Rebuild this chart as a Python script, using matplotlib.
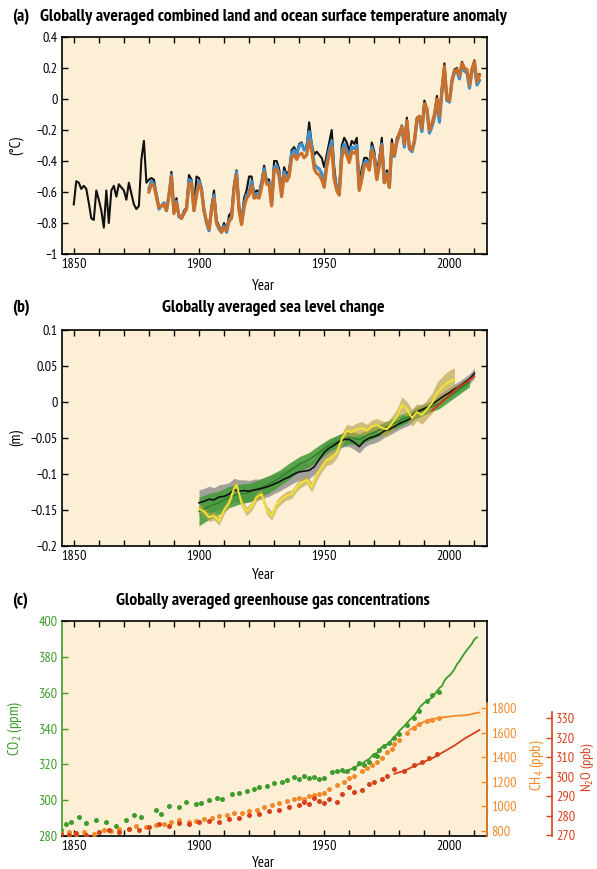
import numpy as np
import matplotlib
matplotlib.use('Agg')
import matplotlib.pyplot as plt
from matplotlib.ticker import MultipleLocator
from matplotlib import font_manager

# pick a condensed sans family similar to the original (Myriad condensed)
available = set(f.name for f in font_manager.fontManager.ttflist)
FONT = 'DejaVu Sans'
for cand in ['PT Sans Narrow', 'Roboto Condensed', 'Fira Sans Condensed', 'Open Sans Condensed',
             'Archivo Narrow', 'Asap Condensed', 'Encode Sans Condensed', 'IBM Plex Sans Condensed',
             'Liberation Sans Narrow']:
    if cand in available:
        FONT = cand
        break

plt.rcParams['font.family'] = [FONT, 'DejaVu Sans']
plt.rcParams['mathtext.fontset'] = 'custom'
plt.rcParams['mathtext.rm'] = FONT
plt.rcParams['mathtext.it'] = FONT
plt.rcParams['mathtext.bf'] = FONT + ':bold'

BG = '#FDEFD6'

# ---------------- (a) temperature anomaly (deg C) ----------------
had_years = np.arange(1850, 2013)
had_vals = [
    -0.68, -0.53, -0.54, -0.58, -0.56, -0.58, -0.67, -0.77, -0.78, -0.59,
    -0.65, -0.72, -0.83, -0.59, -0.80, -0.59, -0.56, -0.63, -0.55, -0.57,
    -0.59, -0.65, -0.54, -0.61, -0.68, -0.71, -0.69, -0.39, -0.27, -0.54,
    -0.52, -0.51, -0.52, -0.61, -0.70, -0.69, -0.67, -0.72, -0.62, -0.47,
    -0.72, -0.64, -0.76, -0.77, -0.72, -0.70, -0.49, -0.52, -0.71, -0.50,
    -0.51, -0.57, -0.71, -0.79, -0.83, -0.69, -0.59, -0.78, -0.82, -0.85,
    -0.80, -0.85, -0.75, -0.73, -0.55, -0.46, -0.69, -0.78, -0.64, -0.59,
    -0.50, -0.50, -0.61, -0.59, -0.60, -0.53, -0.43, -0.52, -0.52, -0.66,
    -0.40, -0.40, -0.45, -0.58, -0.44, -0.49, -0.46, -0.33, -0.31, -0.35,
    -0.29, -0.28, -0.33, -0.30, -0.15, -0.29, -0.36, -0.34, -0.36, -0.38,
    -0.44, -0.36, -0.28, -0.20, -0.44, -0.58, -0.58, -0.30, -0.25, -0.28,
    -0.34, -0.27, -0.29, -0.25, -0.55, -0.45, -0.38, -0.38, -0.42, -0.28,
    -0.34, -0.47, -0.38, -0.25, -0.52, -0.46, -0.53, -0.26, -0.37, -0.25,
    -0.22, -0.17, -0.30, -0.12, -0.32, -0.34, -0.27, -0.12, -0.11, -0.19,
    -0.01, -0.06, -0.21, -0.16, -0.10, 0.02, -0.13, 0.08, 0.23, 0.00,
    -0.02, 0.13, 0.19, 0.20, 0.14, 0.24, 0.20, 0.18, 0.09, 0.20,
    0.25, 0.12, 0.16]

noaa_years = np.arange(1880, 2013)
noaa_vals = [
    -0.60, -0.55, -0.56, -0.63, -0.70, -0.69, -0.68, -0.72, -0.63, -0.50,
    -0.74, -0.67, -0.75, -0.77, -0.74, -0.71, -0.55, -0.54, -0.72, -0.62,
    -0.55, -0.59, -0.72, -0.79, -0.84, -0.72, -0.64, -0.80, -0.83, -0.86,
    -0.83, -0.85, -0.79, -0.77, -0.58, -0.49, -0.72, -0.81, -0.70, -0.64,
    -0.62, -0.56, -0.64, -0.63, -0.64, -0.57, -0.47, -0.55, -0.55, -0.69,
    -0.46, -0.45, -0.50, -0.63, -0.49, -0.53, -0.50, -0.38, -0.36, -0.39,
    -0.36, -0.35, -0.38, -0.36, -0.27, -0.33, -0.45, -0.48, -0.49, -0.52,
    -0.57, -0.44, -0.36, -0.31, -0.52, -0.59, -0.62, -0.38, -0.32, -0.36,
    -0.41, -0.34, -0.35, -0.33, -0.59, -0.52, -0.43, -0.42, -0.46, -0.33,
    -0.38, -0.52, -0.43, -0.30, -0.54, -0.49, -0.57, -0.29, -0.36, -0.27,
    -0.22, -0.18, -0.29, -0.14, -0.31, -0.33, -0.27, -0.13, -0.11, -0.19,
    -0.03, -0.06, -0.20, -0.16, -0.10, 0.00, -0.11, 0.06, 0.21, 0.00,
    -0.01, 0.12, 0.18, 0.19, 0.15, 0.23, 0.20, 0.19, 0.09, 0.19,
    0.24, 0.11, 0.15]

giss_years = np.arange(1880, 2013)
giss_vals = [
    -0.58, -0.53, -0.55, -0.62, -0.71, -0.69, -0.67, -0.72, -0.62, -0.49,
    -0.73, -0.66, -0.76, -0.77, -0.73, -0.71, -0.52, -0.53, -0.72, -0.61,
    -0.53, -0.58, -0.72, -0.80, -0.85, -0.71, -0.62, -0.80, -0.84, -0.86,
    -0.82, -0.86, -0.78, -0.76, -0.57, -0.47, -0.71, -0.80, -0.68, -0.62,
    -0.60, -0.53, -0.63, -0.61, -0.62, -0.55, -0.45, -0.54, -0.54, -0.68,
    -0.44, -0.43, -0.48, -0.61, -0.47, -0.51, -0.48, -0.35, -0.33, -0.36,
    -0.30, -0.29, -0.33, -0.31, -0.21, -0.30, -0.42, -0.44, -0.45, -0.48,
    -0.55, -0.41, -0.33, -0.27, -0.50, -0.57, -0.61, -0.34, -0.29, -0.33,
    -0.38, -0.31, -0.32, -0.30, -0.58, -0.50, -0.41, -0.40, -0.45, -0.31,
    -0.37, -0.51, -0.42, -0.29, -0.54, -0.48, -0.57, -0.30, -0.37, -0.28,
    -0.23, -0.18, -0.31, -0.15, -0.32, -0.34, -0.28, -0.14, -0.12, -0.21,
    -0.04, -0.07, -0.22, -0.18, -0.12, -0.02, -0.15, 0.04, 0.19, -0.01,
    -0.02, 0.11, 0.17, 0.18, 0.13, 0.22, 0.18, 0.17, 0.07, 0.18,
    0.22, 0.09, 0.12]

# ---------------- (b) sea level (m) ----------------
cw_years = np.arange(1900, 2011, 2)
cw_vals = [
    -0.140, -0.138, -0.135, -0.136, -0.132, -0.131, -0.128, -0.122, -0.124, -0.123,
    -0.124, -0.122, -0.121, -0.119, -0.117, -0.114, -0.111, -0.107, -0.104, -0.100,
    -0.097, -0.096, -0.095, -0.090, -0.080, -0.070, -0.064, -0.060, -0.055, -0.052,
    -0.052, -0.056, -0.062, -0.054, -0.050, -0.048, -0.045, -0.040, -0.038, -0.034,
    -0.030, -0.027, -0.024, -0.016, -0.012, -0.009, -0.006, -0.001, 0.004, 0.009,
    0.013, 0.018, 0.022, 0.027, 0.032, 0.040]
cw_err = [
    0.018, 0.018, 0.018, 0.017, 0.017, 0.017, 0.016, 0.016, 0.016, 0.015,
    0.015, 0.015, 0.014, 0.014, 0.014, 0.013, 0.013, 0.013, 0.012, 0.012,
    0.012, 0.012, 0.011, 0.011, 0.011, 0.011, 0.010, 0.010, 0.010, 0.010,
    0.010, 0.010, 0.009, 0.009, 0.009, 0.009, 0.009, 0.009, 0.008, 0.008,
    0.008, 0.008, 0.008, 0.008, 0.008, 0.007, 0.007, 0.007, 0.007, 0.007,
    0.007, 0.007, 0.007, 0.007, 0.007, 0.007]

jev_years = np.arange(1900, 2009, 4)
jev_vals = [
    -0.152, -0.145, -0.140, -0.132, -0.128, -0.126, -0.120, -0.114, -0.106, -0.096,
    -0.086, -0.080, -0.070, -0.060, -0.054, -0.049, -0.052, -0.045, -0.039, -0.033,
    -0.026, -0.020, -0.014, -0.008, -0.002, 0.008, 0.018, 0.028]
jev_err = [
    0.020, 0.018, 0.016, 0.015, 0.014, 0.013, 0.012, 0.012, 0.011, 0.011,
    0.010, 0.010, 0.010, 0.009, 0.009, 0.009, 0.008, 0.008, 0.008, 0.008,
    0.008, 0.007, 0.007, 0.007, 0.007, 0.007, 0.007, 0.007]

rd_years = [1900, 1902, 1904, 1906, 1908, 1910, 1912, 1914, 1915, 1917,
            1919, 1921, 1923, 1925, 1927, 1929, 1931, 1933, 1935, 1937,
            1939, 1941, 1943, 1945, 1947, 1949, 1951, 1953, 1955, 1957,
            1959, 1961, 1963, 1965, 1967, 1969, 1971, 1973, 1975, 1977,
            1979, 1981, 1983, 1985, 1987, 1989, 1991, 1993, 1995, 1997,
            1999, 2001, 2002]
rd_vals = [-0.148, -0.152, -0.160, -0.158, -0.165, -0.150, -0.140, -0.120, -0.115, -0.140,
           -0.152, -0.145, -0.132, -0.128, -0.150, -0.158, -0.142, -0.135, -0.130, -0.128,
           -0.118, -0.112, -0.108, -0.118, -0.102, -0.090, -0.080, -0.078, -0.070, -0.052,
           -0.040, -0.042, -0.038, -0.036, -0.040, -0.034, -0.032, -0.036, -0.038, -0.030,
           -0.020, -0.004, -0.010, -0.022, -0.014, -0.018, -0.010, -0.002, 0.012, 0.020,
           0.026, 0.030, 0.031]
rd_err = [0.006, 0.006, 0.006, 0.006, 0.006, 0.006, 0.006, 0.006, 0.006, 0.006,
          0.006, 0.006, 0.006, 0.006, 0.006, 0.006, 0.006, 0.006, 0.006, 0.006,
          0.006, 0.006, 0.006, 0.007, 0.007, 0.007, 0.008, 0.008, 0.008, 0.009,
          0.009, 0.009, 0.009, 0.009, 0.009, 0.009, 0.009, 0.010, 0.010, 0.010,
          0.010, 0.011, 0.011, 0.012, 0.012, 0.013, 0.013, 0.014, 0.015, 0.015,
          0.016, 0.016, 0.016]

sat_years = [1993, 1995, 1997, 1999, 2001, 2003, 2005, 2007, 2009, 2010]
sat_vals = [-0.012, -0.006, 0.000, 0.006, 0.013, 0.019, 0.024, 0.028, 0.033, 0.036]

# ---------------- (c) greenhouse gases ----------------
co2_core_years = [1845, 1847, 1849, 1852, 1855, 1859, 1863, 1867, 1871, 1874,
                  1877, 1883, 1885, 1888, 1892, 1895, 1899, 1901, 1904, 1907,
                  1909, 1913, 1916, 1919, 1922, 1924, 1927, 1930, 1933, 1935,
                  1938, 1940, 1942, 1944, 1946, 1948, 1950, 1953, 1955, 1957,
                  1959, 1962, 1964, 1966, 1968, 1970, 1971, 1972, 1974, 1976,
                  1978, 1980, 1983, 1986, 1988, 1991, 1993, 1996]
co2_core_vals = [283.5, 286.5, 288.0, 290.5, 287.0, 289.0, 288.0, 285.5, 289.0, 291.5,
                 290.5, 294.5, 292.5, 296.5, 296.0, 299.0, 298.0, 298.5, 300.0, 301.0,
                 300.5, 303.5, 304.0, 305.0, 306.5, 307.5, 308.0, 309.5, 310.0, 311.5,
                 313.0, 312.0, 313.5, 312.5, 313.0, 312.0, 312.5, 315.5, 316.5, 317.0,
                 316.5, 318.0, 320.5, 319.5, 321.5, 325.0, 324.5, 328.0, 330.0, 332.0,
                 334.5, 337.0, 342.0, 346.0, 350.0, 355.5, 358.5, 360.5]
co2_inst_years = np.arange(1958, 2012)
co2_inst_vals = [
    315.3, 316.0, 316.9, 317.6, 318.4, 318.9, 319.6, 320.0, 321.4, 322.2,
    323.0, 324.6, 325.7, 326.3, 327.5, 329.7, 330.2, 331.1, 332.0, 333.8,
    335.4, 336.8, 338.7, 340.1, 341.4, 343.0, 344.6, 346.0, 347.4, 349.2,
    351.6, 353.1, 354.4, 355.6, 356.4, 357.1, 358.8, 360.8, 362.6, 363.7,
    366.7, 368.4, 369.6, 371.1, 373.2, 375.8, 377.5, 379.8, 381.9, 383.8,
    385.6, 387.4, 389.9, 390.9]

ch4_core_years = [1845, 1848, 1851, 1854, 1858, 1862, 1865, 1868, 1872, 1875,
                  1879, 1883, 1886, 1889, 1892, 1896, 1899, 1902, 1905, 1908,
                  1911, 1914, 1917, 1920, 1923, 1926, 1929, 1932, 1935, 1938,
                  1940, 1942, 1944, 1946, 1948, 1950, 1952, 1955, 1958, 1960,
                  1962, 1965, 1967, 1969, 1971, 1973, 1975, 1977, 1978, 1980,
                  1983, 1986, 1988, 1991, 1993, 1996]
ch4_core_vals = [785, 790, 775, 795, 780, 810, 800, 820, 815, 845,
                 830, 850, 860, 870, 890, 875, 880, 900, 905, 925,
                 930, 945, 950, 960, 975, 995, 1010, 1030, 1045, 1060,
                 1070, 1060, 1085, 1090, 1100, 1110, 1140, 1170, 1200, 1230,
                 1245, 1290, 1310, 1340, 1360, 1390, 1440, 1470, 1510, 1540,
                 1600, 1640, 1670, 1690, 1705, 1715]
ch4_inst_years = [1984, 1986, 1988, 1990, 1992, 1994, 1996, 1998, 2000, 2002,
                  2004, 2006, 2008, 2010, 2012]
ch4_inst_vals = [1620, 1645, 1668, 1688, 1705, 1712, 1718, 1725, 1729, 1735,
                 1738, 1739, 1745, 1755, 1762]

n2o_core_years = [1845, 1848, 1851, 1855, 1860, 1864, 1868, 1872, 1876, 1880,
                  1884, 1888, 1892, 1896, 1900, 1904, 1908, 1912, 1916, 1920,
                  1924, 1928, 1932, 1936, 1940, 1942, 1944, 1946, 1948, 1950,
                  1952, 1955, 1957, 1960, 1962, 1965, 1968, 1970, 1973, 1975,
                  1978, 1982, 1986, 1989, 1992, 1995]
n2o_core_vals = [270.5, 270.0, 271.0, 270.0, 271.5, 272.5, 271.5, 273.0, 272.5, 274.0,
                 275.5, 274.5, 276.0, 275.5, 276.5, 277.0, 276.5, 278.0, 279.0, 280.5,
                 281.0, 282.5, 283.0, 284.5, 285.5, 287.0, 286.0, 289.0, 287.5, 286.5,
                 288.5, 287.0, 291.0, 294.5, 292.0, 293.0, 296.0, 297.5, 299.0, 300.5,
                 304.0, 303.0, 306.0, 307.5, 309.5, 311.5]
n2o_inst_years = [1978, 1982, 1986, 1990, 1994, 1998, 2002, 2006, 2010, 2012]
n2o_inst_vals = [301.5, 303.0, 305.5, 307.7, 310.0, 313.0, 316.0, 319.5, 322.5, 324.0]

C_BLACK = '#111111'
C_BLUE = '#3E8FCB'
C_ORANGE = '#C8702C'
C_CO2 = '#3E9B2C'
C_CH4 = '#F28A2A'
C_N2O = '#D8401C'

fig = plt.figure(figsize=(5.97, 8.69), dpi=100)
W, H = 597.0, 869.0

# scale the title font so the first title spans the same width as in the original (~467 px)
probe = fig.text(0, 0, 'Globally averaged combined land and ocean surface temperature anomaly',
                 fontsize=10, fontweight='bold')
pw = probe.get_window_extent(renderer=fig.canvas.get_renderer()).width
probe.remove()
FS_TITLE = 10 * 467.0 / pw
FS_TICK = FS_TITLE * 0.8
FS_LAB = FS_TICK * 1.06


def px_axes(left, top, right, bottom):
    return fig.add_axes([left / W, 1 - bottom / H, (right - left) / W, (bottom - top) / H])


def style_axes(ax, right_ticks=True):
    ax.set_facecolor(BG)
    ax.set_xlim(1845.3, 2015.0)
    ax.set_xticks([1850, 1900, 1950, 2000])
    ax.xaxis.set_minor_locator(MultipleLocator(10))
    ax.tick_params(axis='both', which='both', direction='in', length=4, width=1.0,
                   top=True, right=right_ticks, labelsize=FS_TICK, pad=3)
    for s in ax.spines.values():
        s.set_linewidth(1.2)


def title(y, tag, text):
    fig.text(12 / W, 1 - y / H, tag, fontsize=FS_TITLE, fontweight='bold', va='center', ha='left')
    fig.text(273 / W, 1 - y / H, text, fontsize=FS_TITLE, fontweight='bold', va='center', ha='center')


# ---- panel a ----
ax_a = px_axes(62, 37, 487, 254)
style_axes(ax_a)
ax_a.plot(had_years, had_vals, color=C_BLACK, lw=1.5, zorder=3)
ax_a.plot(giss_years, giss_vals, color=C_BLUE, lw=2.3, zorder=4)
ax_a.plot(noaa_years, noaa_vals, color=C_ORANGE, lw=2.3, zorder=5)
ax_a.set_ylim(-1.0, 0.4)
ax_a.set_yticks([-1, -0.8, -0.6, -0.4, -0.2, 0, 0.2, 0.4])
ax_a.set_yticklabels(['\u22121', '\u22120.8', '\u22120.6', '\u22120.4', '\u22120.2', '0', '0.2', '0.4'])
ax_a.set_ylabel('(°C)', fontsize=FS_LAB)
ax_a.yaxis.set_label_coords(-0.09, 0.5)
ax_a.set_xlabel('Year', fontsize=FS_LAB)
ax_a.xaxis.set_label_coords(0.473, -0.115)
title(17, '(a)', 'Globally averaged combined land and ocean surface temperature anomaly')

# ---- panel b ----
ax_b = px_axes(62, 330, 487, 546)
style_axes(ax_b)
cw_lo = np.array(cw_vals) - np.array(cw_err)
cw_hi = np.array(cw_vals) + np.array(cw_err)
jev_lo = np.array(jev_vals) - np.array(jev_err)
jev_hi = np.array(jev_vals) + np.array(jev_err)
rd_lo = np.array(rd_vals) - np.array(rd_err)
rd_hi = np.array(rd_vals) + np.array(rd_err)
ax_b.fill_between(cw_years, cw_lo, cw_hi, color='#8E8E8E', alpha=0.8, lw=0, zorder=2)
ax_b.fill_between(jev_years, jev_lo, jev_hi, color='#3F9A35', alpha=0.85, lw=0, zorder=3)
ax_b.fill_between(rd_years, rd_lo, rd_hi, color='#B8A348', alpha=0.65, lw=0, zorder=4)
ax_b.plot(jev_years, jev_vals, color='#2E7D2A', lw=1.0, zorder=5)
ax_b.plot(cw_years, cw_vals, color=C_BLACK, lw=1.2, zorder=6)
ax_b.plot(rd_years, rd_vals, color='#F2E232', lw=1.4, zorder=7)
ax_b.plot(sat_years, sat_vals, color='#D8301E', lw=1.3, zorder=8)
ax_b.set_ylim(-0.2, 0.1)
ax_b.set_yticks([-0.2, -0.15, -0.1, -0.05, 0, 0.05, 0.1])
ax_b.set_yticklabels(['\u22120.2', '\u22120.15', '\u22120.1', '\u22120.05', '0', '0.05', '0.1'])
ax_b.set_ylabel('(m)', fontsize=FS_LAB)
ax_b.yaxis.set_label_coords(-0.09, 0.5)
ax_b.set_xlabel('Year', fontsize=FS_LAB)
ax_b.xaxis.set_label_coords(0.473, -0.10)
title(308, '(b)', 'Globally averaged sea level change')

# ---- panel c ----
ax_c = px_axes(62, 621, 487, 836)
style_axes(ax_c, right_ticks=False)
ax_c.spines['left'].set_color(C_CO2)
ax_c.tick_params(axis='y', colors=C_CO2)
ax_c.set_ylim(280, 400)
ax_c.set_yticks(np.arange(280, 401, 20))
ax_c.set_ylabel('CO$_2$ (ppm)', fontsize=FS_LAB, color=C_CO2)
ax_c.yaxis.set_label_coords(-0.09, 0.5)
ax_c.set_xlabel('Year', fontsize=FS_LAB)
ax_c.xaxis.set_label_coords(0.473, -0.095)

ax_ch4 = ax_c.twinx()
ax_n2o = ax_c.twinx()
for tw in (ax_ch4, ax_n2o):
    for side in ('top', 'bottom', 'left'):
        tw.spines[side].set_visible(False)
    tw.spines['right'].set_linewidth(1.2)

ax_ch4.set_ylim(760, 2505)
ax_ch4.set_yticks(np.arange(800, 1801, 200))
ax_ch4.spines['right'].set_color(C_CH4)
ax_ch4.spines['right'].set_bounds(760, 1840)
ax_ch4.tick_params(axis='y', direction='in', length=4, width=1.0, colors=C_CH4,
                   labelsize=FS_TICK, pad=3)
ax_ch4.set_ylabel('CH$_4$ (ppb)', fontsize=FS_LAB, color=C_CH4)
ax_ch4.yaxis.set_label_coords(1.095, 0.33)

# spine offset is given in points: 65 px at 100 dpi
ax_n2o.spines['right'].set_position(('outward', 65 * 72 / 100.0))
ax_n2o.set_ylim(269.5, 380)
ax_n2o.set_yticks(np.arange(270, 331, 10))
ax_n2o.spines['right'].set_color(C_N2O)
ax_n2o.spines['right'].set_bounds(269.5, 333)
ax_n2o.tick_params(axis='y', direction='in', length=4, width=1.0, colors=C_N2O,
                   labelsize=FS_TICK, pad=3)
ax_n2o.set_ylabel('N$_2$O (ppb)', fontsize=FS_TICK, color=C_N2O)
ax_n2o.yaxis.set_label_coords(1.216, 0.32)

ax_n2o.plot(n2o_core_years, n2o_core_vals, 'o', color=C_N2O, ms=3.6, mew=0, zorder=3)
ax_n2o.plot(n2o_inst_years, n2o_inst_vals, color=C_N2O, lw=1.3, zorder=3)
ax_ch4.plot(ch4_core_years, ch4_core_vals, 'o', color=C_CH4, ms=3.6, mew=0, zorder=3)
ax_ch4.plot(ch4_inst_years, ch4_inst_vals, color=C_CH4, lw=1.3, zorder=3)
ax_c.plot(co2_core_years, co2_core_vals, 'o', color=C_CO2, ms=3.6, mew=0, zorder=3)
ax_c.plot(co2_inst_years, co2_inst_vals, color=C_CO2, lw=1.3, zorder=3)
title(601, '(c)', 'Globally averaged greenhouse gas concentrations')

# background of panel c sits below the twin axes carrying CH4 and N2O
ax_c.set_zorder(0)
ax_ch4.set_zorder(1)
ax_n2o.set_zorder(2)

fig.savefig('out.png', dpi=100)
